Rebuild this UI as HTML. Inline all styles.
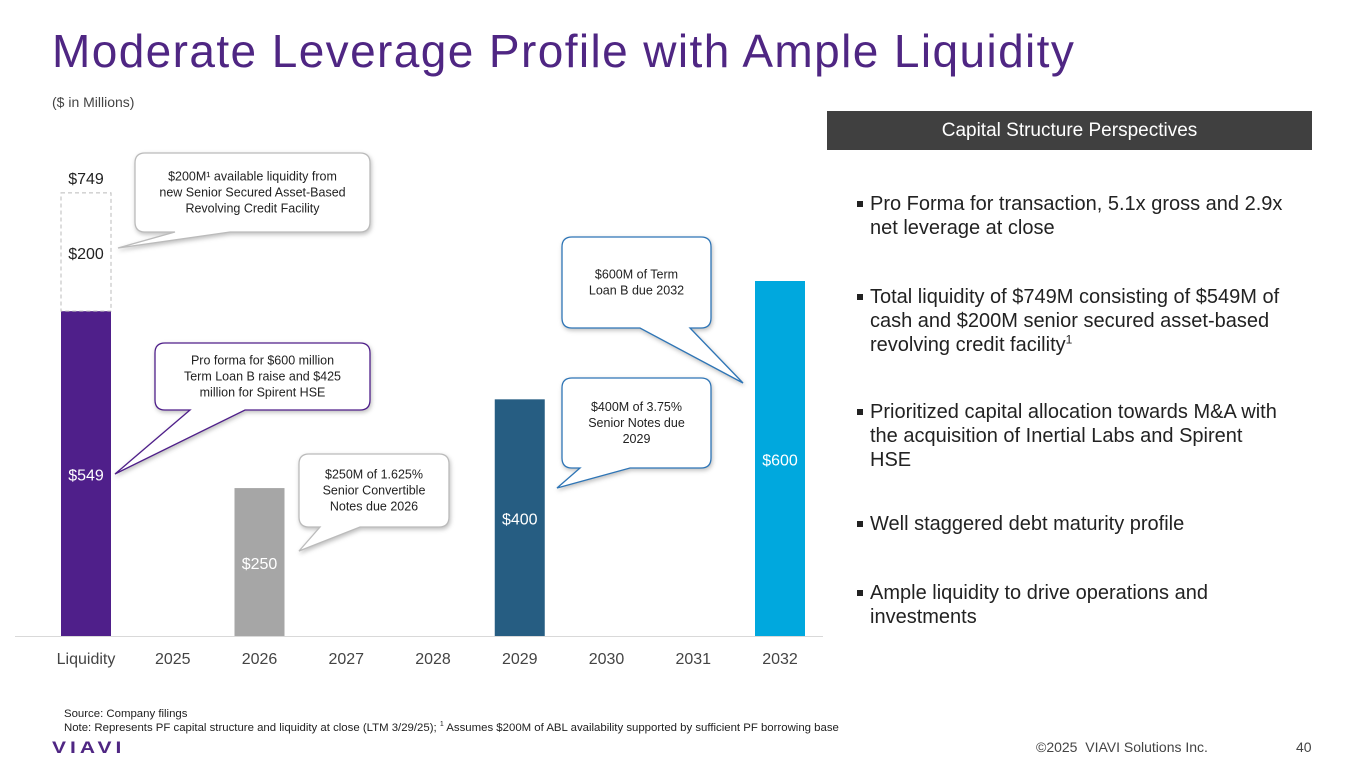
<!DOCTYPE html>
<html><head><meta charset="utf-8">
<style>
body{margin:0;width:1365px;height:768px;overflow:hidden;background:#fff;font-family:"Liberation Sans",sans-serif;position:relative}
.abs{position:absolute}
h1{position:absolute;left:52px;top:24px;margin:0;font-weight:normal;font-size:46px;color:#4f2683;letter-spacing:1.4px}
.bul{position:absolute;left:870px;font-size:20px;color:#222;line-height:24px;white-space:nowrap}
.bul:before{content:"";position:absolute;left:-13px;top:9px;width:6px;height:6px;background:#222}
sup{line-height:0}
</style></head><body>
<h1>Moderate Leverage Profile with Ample Liquidity</h1>
<div class="abs" style="left:52px;top:94px;font-size:14px;color:#444">($ in Millions)</div>
<svg class="abs" style="left:0;top:0" width="830" height="680">
<g id="g"></g>
</svg>
<div class="abs" style="left:827px;top:111px;width:485px;height:39px;background:#404040;color:#fff;font-size:19px;text-align:center;line-height:40px">Capital Structure Perspectives</div>
<div class="bul" style="top:192px">Pro Forma for transaction, 5.1x gross and 2.9x<br>net leverage at close</div>
<div class="bul" style="top:285px">Total liquidity of $749M consisting of $549M of<br>cash and $200M senior secured asset-based<br>revolving credit facility<sup style="font-size:12px">1</sup></div>
<div class="bul" style="top:400px">Prioritized capital allocation towards M&amp;A with<br>the acquisition of Inertial Labs and Spirent<br>HSE</div>
<div class="bul" style="top:512px">Well staggered debt maturity profile</div>
<div class="bul" style="top:581px">Ample liquidity to drive operations and<br>investments</div>
<div class="abs" style="left:64px;top:707px;font-size:11.4px;color:#222;line-height:14px">Source: Company filings<br>Note: Represents PF capital structure and liquidity at close (LTM 3/29/25); <sup style="font-size:7px">1</sup> Assumes $200M of ABL availability supported by sufficient PF borrowing base</div>
<div class="abs" style="left:52px;top:736px;font-size:21px;font-weight:bold;color:#4f2683;letter-spacing:4px;transform:scaleY(0.8)">VIAVI</div>
<div class="abs" style="left:1036px;top:739px;font-size:14px;color:#444">©2025 &nbsp;VIAVI Solutions Inc.</div>
<div class="abs" style="left:1296px;top:739px;font-size:14px;color:#444">40</div>
<script>
const categories=["Liquidity","2025","2026","2027","2028","2029","2030","2031","2032"];
const values=[549,0,250,0,0,400,0,0,600];
const revolver=[200];
const colors=["#4f1f8a","#999","#a6a6a6","#999","#999","#265d82","#999","#999","#00a8de"];
const NS="http://www.w3.org/2000/svg";
const g=document.getElementById('g');
const base=636, k=355/600;
const x=i=>86+i*86.75;
const y=v=>base-v*k;
function mk(t,a){const e=document.createElementNS(NS,t);for(const n in a)e.setAttribute(n,a[n]);g.appendChild(e);return e;}
let ax=mk('line',{x1:15,x2:823,y1:base+0.5,y2:base+0.5,stroke:'#d9d9d9','stroke-width':1});


categories.forEach((c,i)=>{
 const t=mk('text',{x:x(i),y:664,'text-anchor':'middle','font-size':16,fill:'#444'});t.textContent=c;
 
 
 if(values[i]>0){
  const r=mk('rect',{x:x(i)-25,y:y(values[i]),width:50,height:values[i]*k,fill:colors[i]});
  
  
  const l=mk('text',{x:x(i),y:(y(values[i])+base)/2+7,'text-anchor':'middle','font-size':16,fill:'#fff'});
  l.textContent='$'+values[i];
  
  
 }
});
const totalLiq=values[0]+revolver[0];
const rv=mk('rect',{x:x(0)-25,y:y(totalLiq),width:50,height:revolver[0]*k,fill:'none',stroke:'#bbb','stroke-dasharray':'4,3'});


const t2=mk('text',{x:x(0),y:y(values[0])-52,'text-anchor':'middle','font-size':16,fill:'#222'});t2.textContent='$'+revolver[0];


const t3=mk('text',{x:x(0),y:y(totalLiq)-9,'text-anchor':'middle','font-size':16,fill:'#222'});t3.textContent='$'+totalLiq;


function callout(name,x0,y0,w,h,tx,ty,b1,b2,stroke,lines){
 const r=10;
 const d=`M${x0+r},${y0} H${x0+w-r} Q${x0+w},${y0} ${x0+w},${y0+r} V${y0+h-r} Q${x0+w},${y0+h} ${x0+w-r},${y0+h} H${b2} L${tx},${ty} L${b1},${y0+h} H${x0+r} Q${x0},${y0+h} ${x0},${y0+h-r} V${y0+r} Q${x0},${y0} ${x0+r},${y0} Z`;
 const p=mk('path',{d:d,fill:'#fff',stroke:stroke,'stroke-width':1.3,style:'filter:drop-shadow(1px 2px 2px rgba(0,0,0,0.25))'});
 
 
 lines.forEach((s,j)=>{const t=mk('text',{x:x0+w/2,y:y0+h/2-(lines.length-1)*8+j*16+4,'text-anchor':'middle','font-size':12.5,fill:'#222'});t.textContent=s;
 
 });
}
callout('callout-abl',135,153,235,79,118,248,175,230,'#bbb',['$200M¹ available liquidity from','new Senior Secured Asset-Based','Revolving Credit Facility']);
callout('callout-pro-forma',155,343,215,67,115,474,190,245,'#4f1f8a',['Pro forma for $600 million','Term Loan B raise and $425','million for Spirent HSE']);
callout('callout-convertible',299,454,150,73,299,551,320,360,'#bbb',['$250M of 1.625%','Senior Convertible','Notes due 2026']);
callout('callout-senior-notes',562,378,149,90,557,488,580,630,'#2e75b6',['$400M of 3.75%','Senior Notes due','2029']);
callout('callout-term-loan',562,237,149,91,743,383,640,690,'#2e75b6',['$600M of Term','Loan B due 2032']);
</script>
</body></html>
